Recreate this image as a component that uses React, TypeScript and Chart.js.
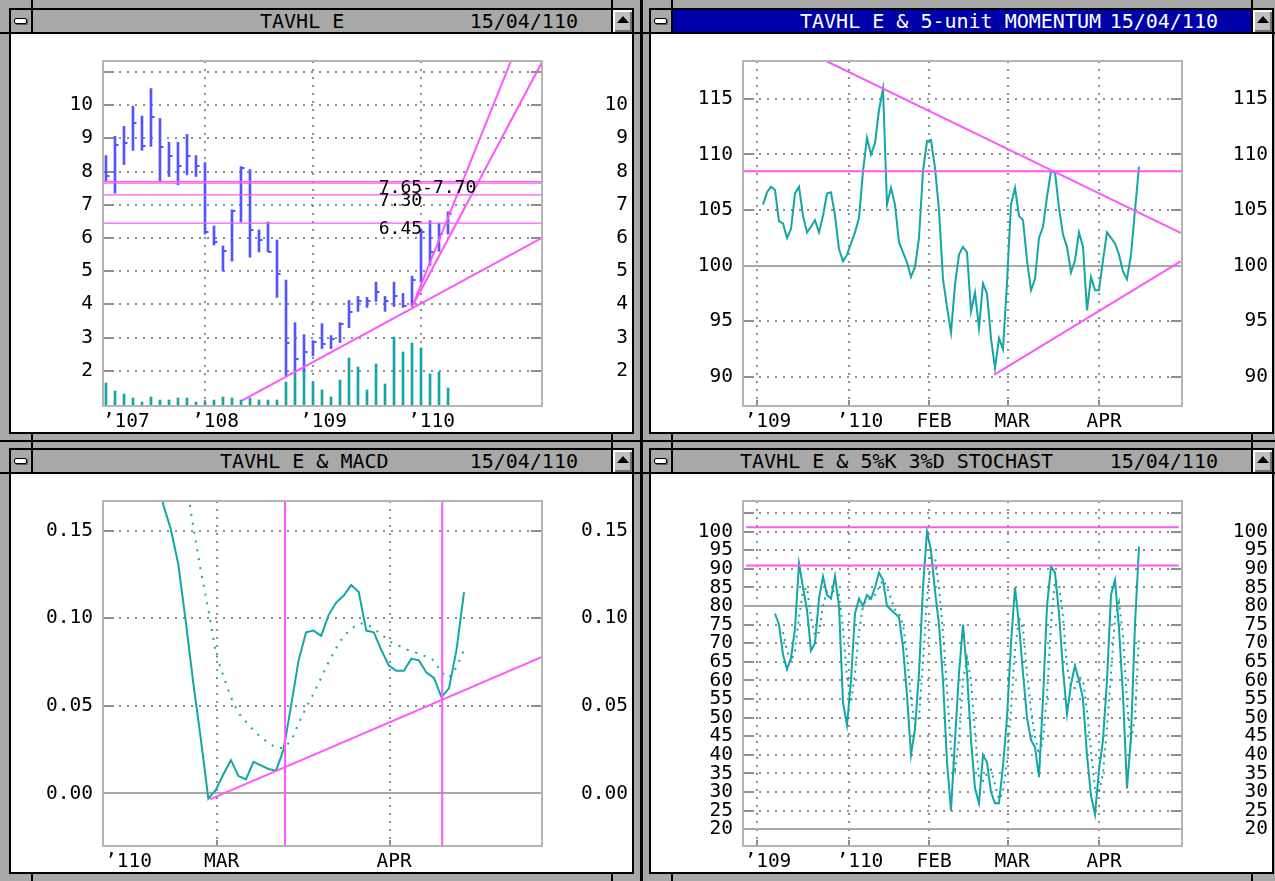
import React, { useEffect, useRef } from "react";
import { Chart, registerables } from "chart.js";

Chart.register(...registerables);

const MONO = '"DejaVu Sans Mono", "Liberation Mono", monospace';
const TEAL = "#12a6a6";
const BLUE = "#5555ff";
const PINK = "#ff55ff";
const GRID = "#8e8e8e";
const FRAME = "#b4b4b4";
const ZERO = "#a8a8a8";
const FACE = "#a8a8a8";

// ---------------- Panel 1 : TAVHL E monthly bars (x = month index, 0 = Jan '107) -------------
const P1_FIRST_MONTH = 1;
const P1_HIGH = [8.48, 9.06, 9.36, 9.97, 9.67, 10.5, 9.6, 8.88, 8.88, 9.12, 8.48, 8.27, 6.36, 5.76, 6.85, 8.15, 8.06, 6.24, 6.48, 5.94, 4.73, 3.45, 3.09, 2.91, 3.42, 3.06, 3.45, 4.12, 4.24, 4.21, 4.67, 4.24, 4.67, 4.33, 4.85, 6.27, 6.52, 6.45, 6.79];
const P1_LOW = [7.7, 7.35, 8.21, 8.64, 8.64, 8.76, 7.7, 7.85, 7.6, 7.9, 7.85, 6.12, 5.79, 5.0, 5.3, 6.48, 5.42, 5.58, 5.58, 4.21, 1.85, 1.94, 1.97, 2.45, 2.67, 2.67, 2.85, 3.3, 3.79, 3.91, 4.09, 3.79, 3.94, 3.91, 3.94, 4.67, 5.18, 5.6, 6.12];
const P1_CLOSE = [7.88, 8.79, 8.85, 9.45, 8.76, 9.64, 8.73, 8.48, 8.18, 8.48, 8.18, 6.18, 5.88, 5.6, 6.82, 8.12, 6.24, 5.94, 5.58, 4.91, 2.85, 2.36, 2.58, 2.86, 2.82, 2.97, 3.42, 3.76, 4.09, 4.09, 4.36, 4.09, 4.24, 3.94, 4.73, 6.18, 5.58, 6.12, 6.73];
const P1_VOLUME = [23, 15, 12, 8, 4, 9, 6, 6, 8, 8, 4, 4, 6, 9, 8, 6, 8, 6, 6, 6, 24, 33, 36, 24, 16, 9, 26, 48, 39, 16, 42, 22, 69, 54, 63, 58, 32, 34, 18];
const P1_VOLUME_MAX = 345;
const P1_X_MIN = 0.67;
const P1_X_MAX = 49.44;
const P1_X_TICKS = [2.1, 12, 24, 36];
const P1_X_LABELS = ["\u2019107", "\u2019108", "\u2019109", "\u2019110"];
const P1_Y_MIN = 0.94;
const P1_Y_MAX = 11.33;
const P1_Y_TICKS = [2, 3, 4, 5, 6, 7, 8, 9, 10, 11];
const P1_Y_LABELS = ["2", "3", "4", "5", "6", "7", "8", "9", "10", ""];
const P1_LEVELS = [7.7, 7.65, 7.3, 6.45];
const P1_NOTE_TEXT = ["7.65-7.70", "7.30", "6.45"];
const P1_NOTE_VALUE = [7.7, 7.3, 6.45];
const P1_NOTE_X = 31.3;
const P1_TREND_SUPPORT = [[16.1, 1.1], [49.44, 6.0]];
const P1_TREND_FAN_A = [[35, 3.92], [46, 11.33]];
const P1_TREND_FAN_B = [[35, 3.92], [49.44, 11.3]];

// ---------------- Daily panels (x = trading-day index) ----------------
const D_X_TICKS = [-1.4, 21.6, 41.6, 61.15, 84.1];
const D_X_LABELS = ["\u2019109", "\u2019110", "FEB", "MAR", "APR"];
const D_X_MIN = -5.0;
const D_X_MAX = 104.75;

// Panel 2 : 5-unit momentum
const MOM_START = 0;
const MOMENTUM = [
  105.5, 106.6, 107.1, 106.8, 104.0, 103.8, 102.5, 103.3, 106.5, 107.1,
  104.5, 103.0, 103.5, 104.1, 103.0, 104.5, 106.5, 106.6, 104.5, 101.5,
  100.4, 101.0, 102.0, 103.0, 104.3, 108.5, 111.5, 110.0, 111.0, 114.0,
  115.9, 105.5, 107.0, 105.5, 102.1, 101.2, 100.3, 99.0, 99.9, 102.5,
  108.5, 111.2, 111.3, 108.8, 105.0, 98.8, 96.3, 94.0, 98.3, 101.0,
  101.7, 101.2, 95.9, 97.6, 94.4, 98.4, 97.5, 93.5, 90.8, 93.5,
  92.5, 98.5, 105.5, 107.0, 104.5, 104.1, 100.5, 97.8, 98.8, 102.5,
  103.5, 106.2, 108.5, 108.4, 105.2, 102.8, 101.7, 99.4, 100.5, 103.0,
  101.7, 96.0, 99.0, 97.8, 97.8, 100.5, 103.0, 102.5, 102.0, 101.0,
  99.5, 98.8, 101.0, 105.0, 108.9,
];
const P2_Y_MIN = 87.4;
const P2_Y_MAX = 118.4;
const P2_Y_TICKS = [90, 95, 100, 105, 110, 115];
const P2_Y_LABELS = ["90", "95", "100", "105", "110", "115"];
const P2_BASE = 100;
const P2_RESIST = 108.5;
const P2_TREND_UPPER = [[15.8, 118.4], [104.4, 102.95]];
const P2_TREND_LOWER = [[57.75, 90.2], [104.4, 100.4]];

// Panel 3 : MACD
const MACD_START = 53;
const MACD = [
  0.19, 0.165, 0.151, 0.131, 0.098, 0.063, 0.031, -0.003, 0.002, 0.011,
  0.019, 0.01, 0.008, 0.018, 0.016, 0.014, 0.013, 0.025, 0.05, 0.076,
  0.092, 0.093, 0.09, 0.102, 0.109, 0.113, 0.119, 0.115, 0.093, 0.092,
  0.082, 0.073, 0.07, 0.07, 0.077, 0.076, 0.069, 0.066, 0.055, 0.06,
  0.082, 0.115,
];
const SIGNAL_START = 57;
const SIGNAL = [
  0.18, 0.152, 0.127, 0.105, 0.08, 0.067, 0.055, 0.046, 0.041, 0.036,
  0.032, 0.029, 0.026, 0.026, 0.03, 0.04, 0.049, 0.057, 0.066, 0.075,
  0.083, 0.09, 0.094, 0.097, 0.097, 0.094, 0.091, 0.087, 0.085, 0.083,
  0.081, 0.08, 0.078, 0.076, 0.069, 0.066, 0.072, 0.082,
];
const P3_X_MIN = 45.99;
const P3_X_MAX = 104.37;
const P3_X_TICKS = [48.0, 61.15, 84.1];
const P3_X_LABELS = ["\u2019110", "MAR", "APR"];
const P3_Y_MIN = -0.03;
const P3_Y_MAX = 0.167;
const P3_Y_TICKS = [0, 0.05, 0.1, 0.15];
const P3_Y_LABELS = ["0.00", "0.05", "0.10", "0.15"];
const P3_BASE = 0;
const P3_MARKS = [70.2, 91.1];
const P3_TREND = [[60.2, -0.0034], [104.37, 0.078]];

// Panel 4 : 5%K 3%D stochastic
const STOCH_K_START = 3;
const STOCH_K = [
  78, 75, 67, 63, 66, 74, 91.5, 85, 79, 68,
  70, 82, 88, 83, 82, 88, 80, 54, 48, 60,
  78, 82, 80, 83, 82, 85, 89, 87, 80, 79,
  78, 77, 69, 56, 40, 47, 62, 85, 100, 95,
  84, 75, 60, 38, 25, 44, 62, 75, 62, 44,
  31, 27, 40, 38, 30, 27, 27, 37, 50, 70,
  85, 75, 62, 50, 44, 42, 34, 55, 80, 90.6,
  89, 78, 63, 51, 59, 64, 60, 55, 40, 29,
  24, 36, 44, 60, 83, 87, 74, 56, 31, 45,
  75, 96,
];
const STOCH_D_START = 5;
const STOCH_D = [
  73, 68, 65, 68, 77, 84, 85, 77, 72, 73,
  80, 84, 84, 84, 83, 74, 61, 54, 62, 73,
  80, 82, 82, 83, 85, 87, 85, 82, 79, 78,
  75, 67, 55, 48, 50, 65, 82, 93, 93, 85,
  73, 58, 41, 36, 44, 60, 66, 60, 46, 34,
  33, 35, 36, 32, 28, 30, 38, 52, 68, 77,
  74, 62, 52, 45, 40, 44, 56, 75, 87, 86,
  77, 64, 58, 58, 61, 60, 52, 41, 31, 30,
  35, 47, 62, 77, 81, 72, 54, 44, 50, 72,
];
const P4_Y_MIN = 15.5;
const P4_Y_MAX = 108.25;
const P4_Y_TICKS = [20, 25, 30, 35, 40, 45, 50, 55, 60, 65, 70, 75, 80, 85, 90, 95, 100, 105];
const P4_Y_LABELS = ["20", "25", "30", "35", "40", "45", "50", "55", "60", "65", "70", "75", "80", "85", "90", "95", "100", ""];
const P4_BASES = [80, 20];
const P4_LEVELS = [101.2, 90.9];

// ---------------- layout constants ----------------
const CANVAS_W = 621;
const CANVAS_H = 398;
const LEFT_W = 92;
const RIGHT_W = 86;
const PAD_TOP = 27;
const PAD_RIGHT = 4;
const BOTTOM_H = 26;
const TICK_FONT = { family: MONO, size: 19.5 };

function xAxis(min: number, max: number, ticks: number[], labels: string[], hidden: number[]) {
  return {
    type: "linear",
    min,
    max,
    offset: false,
    afterBuildTicks: (s: any) => {
      s.ticks = ticks.map((v) => ({ value: v }));
    },
    afterFit: (s: any) => {
      s.height = BOTTOM_H;
    },
    grid: {
      offset: false,
      drawTicks: false,
      lineWidth: 2,
      color: (c: any) => (hidden.includes(c.index) ? "rgba(0,0,0,0)" : GRID),
    },
    border: { display: false, dash: [2, 6] },
    ticks: {
      autoSkip: false,
      maxRotation: 0,
      minRotation: 0,
      padding: 4,
      align: "start",
      labelOffset: -13,
      color: "#000",
      font: TICK_FONT,
      callback: (_v: any, i: number) => labels[i],
    },
  };
}

function yAxis(pos: "left" | "right", min: number, max: number, ticks: number[], labels: string[]) {
  return {
    type: "linear",
    position: pos,
    min,
    max,
    beginAtZero: false,
    afterBuildTicks: (s: any) => {
      s.ticks = ticks.map((v) => ({ value: v }));
    },
    afterFit: (s: any) => {
      s.width = pos === "left" ? LEFT_W : RIGHT_W;
    },
    grid: { display: pos === "left", drawTicks: false, color: GRID, lineWidth: 2 },
    border: { display: false, dash: [2, 6] },
    ticks: {
      autoSkip: false,
      padding: 10,
      crossAlign: pos === "left" ? "near" : "far",
      color: "#000",
      font: TICK_FONT,
      callback: (_v: any, i: number) => labels[i],
    },
  };
}

function seg(points: number[][], color: string, width: number, dash?: number[]) {
  return {
    type: "line",
    data: points.map((p) => ({ x: p[0], y: p[1] })),
    borderColor: color,
    borderWidth: width,
    borderDash: dash || [],
    pointRadius: 0,
    tension: 0,
    fill: false,
    order: 0,
  };
}

function series(start: number, values: number[], color: string, width: number, dash?: number[], order = 1) {
  return {
    type: "line",
    data: values.map((v, i) => ({ x: start + i, y: v })),
    borderColor: color,
    borderWidth: width,
    borderDash: dash || [],
    borderCapStyle: "butt",
    pointRadius: 0,
    tension: 0,
    fill: false,
    order,
  };
}

function retroPlugin(opts: { bases?: number[]; hiddenX?: number[]; notes?: { text: string[]; value: number[]; x: number } }) {
  return {
    id: "retro",
    beforeDatasetsDraw(chart: any) {
      const { ctx, chartArea: a, scales } = chart;
      ctx.save();
      ctx.strokeStyle = GRID;
      ctx.lineWidth = 2;
      ctx.setLineDash([]);
      for (const t of scales.y.ticks) {
        const y = Math.round(scales.y.getPixelForValue(t.value));
        ctx.beginPath();
        ctx.moveTo(a.left, y);
        ctx.lineTo(a.left + 11, y);
        ctx.moveTo(a.right - 11, y);
        ctx.lineTo(a.right, y);
        ctx.stroke();
      }
      scales.x.ticks.forEach((t: any, i: number) => {
        if (opts.hiddenX && opts.hiddenX.includes(i)) return;
        const x = Math.round(scales.x.getPixelForValue(t.value));
        ctx.beginPath();
        ctx.moveTo(x, a.bottom - 6);
        ctx.lineTo(x, a.bottom);
        ctx.stroke();
      });
      if (opts.bases) {
        ctx.strokeStyle = ZERO;
        ctx.lineWidth = 2;
        for (const v of opts.bases) {
          const y = Math.round(scales.y.getPixelForValue(v));
          ctx.beginPath();
          ctx.moveTo(a.left, y);
          ctx.lineTo(a.right, y);
          ctx.stroke();
        }
      }
      ctx.restore();
    },
    afterDatasetsDraw(chart: any) {
      const { ctx, chartArea: a, scales } = chart;
      ctx.save();
      if (opts.notes) {
        ctx.fillStyle = "#000";
        ctx.font = `18px ${MONO}`;
        ctx.textAlign = "left";
        ctx.textBaseline = "alphabetic";
        const x = scales.x.getPixelForValue(opts.notes.x);
        opts.notes.text.forEach((t, i) => {
          const y = scales.y.getPixelForValue(opts.notes!.value[i]) + 11;
          ctx.fillText(t, x, y);
        });
      }
      ctx.strokeStyle = FRAME;
      ctx.lineWidth = 2;
      ctx.setLineDash([]);
      ctx.strokeRect(a.left, a.top, a.right - a.left, a.bottom - a.top);
      ctx.restore();
    },
  };
}

function baseOptions(scales: any) {
  return {
    responsive: false,
    animation: false,
    events: [],
    layout: { padding: { top: PAD_TOP, right: PAD_RIGHT, left: 0, bottom: 0 } },
    plugins: { legend: { display: false }, tooltip: { enabled: false } },
    scales,
  };
}

function closeTickImage() {
  const c = document.createElement("canvas");
  c.width = 9;
  c.height = 2;
  const g = c.getContext("2d")!;
  g.fillStyle = BLUE;
  g.fillRect(5, 0, 3, 2);
  return c;
}

function buildP1(canvas: HTMLCanvasElement) {
  const datasets: any[] = [
    ...P1_LEVELS.map((v) => seg([[P1_X_MIN, v], [P1_X_MAX, v]], PINK, 1.3)),
    seg(P1_TREND_SUPPORT, PINK, 2),
    seg(P1_TREND_FAN_A, PINK, 2),
    seg(P1_TREND_FAN_B, PINK, 2),
    {
      type: "scatter",
      data: P1_CLOSE.map((c, i) => ({ x: P1_FIRST_MONTH + i, y: c })),
      pointStyle: closeTickImage(),
      pointRadius: 3,
      showLine: false,
      order: 1,
    },
    {
      type: "bar",
      data: P1_HIGH.map((h, i) => ({ x: P1_FIRST_MONTH + i, y: [P1_LOW[i], h] })),
      backgroundColor: BLUE,
      borderWidth: 0,
      barThickness: 2,
      maxBarThickness: 2,
      grouped: false,
      order: 2,
    },
    {
      type: "bar",
      yAxisID: "yv",
      data: P1_VOLUME.map((v, i) => ({ x: P1_FIRST_MONTH + i, y: v })),
      backgroundColor: TEAL,
      borderWidth: 0,
      barThickness: 2,
      maxBarThickness: 2,
      grouped: false,
      order: 3,
    },
  ];
  return new Chart(canvas, {
    type: "bar",
    data: { datasets },
    options: baseOptions({
      x: xAxis(P1_X_MIN, P1_X_MAX, P1_X_TICKS, P1_X_LABELS, [0]),
      y: yAxis("left", P1_Y_MIN, P1_Y_MAX, P1_Y_TICKS, P1_Y_LABELS),
      y2: yAxis("right", P1_Y_MIN, P1_Y_MAX, P1_Y_TICKS, P1_Y_LABELS),
      yv: { type: "linear", display: false, min: 0, max: P1_VOLUME_MAX },
    }) as any,
    plugins: [retroPlugin({ hiddenX: [0], notes: { text: P1_NOTE_TEXT, value: P1_NOTE_VALUE, x: P1_NOTE_X } })],
  } as any);
}

function buildP2(canvas: HTMLCanvasElement) {
  const datasets: any[] = [
    seg([[D_X_MIN, P2_RESIST], [D_X_MAX, P2_RESIST]], PINK, 2),
    seg(P2_TREND_UPPER, PINK, 2),
    seg(P2_TREND_LOWER, PINK, 2),
    series(MOM_START, MOMENTUM, TEAL, 2),
  ];
  return new Chart(canvas, {
    type: "line",
    data: { datasets },
    options: baseOptions({
      x: xAxis(D_X_MIN, D_X_MAX, D_X_TICKS, D_X_LABELS, []),
      y: yAxis("left", P2_Y_MIN, P2_Y_MAX, P2_Y_TICKS, P2_Y_LABELS),
      y2: yAxis("right", P2_Y_MIN, P2_Y_MAX, P2_Y_TICKS, P2_Y_LABELS),
    }) as any,
    plugins: [retroPlugin({ bases: [P2_BASE] })],
  } as any);
}

function buildP3(canvas: HTMLCanvasElement) {
  const datasets: any[] = [
    ...P3_MARKS.map((m) => seg([[m, P3_Y_MIN], [m, P3_Y_MAX]], PINK, 2)),
    seg(P3_TREND, PINK, 2),
    series(MACD_START, MACD, TEAL, 2),
    series(SIGNAL_START, SIGNAL, TEAL, 2, [2, 7], 2),
  ];
  return new Chart(canvas, {
    type: "line",
    data: { datasets },
    options: baseOptions({
      x: xAxis(P3_X_MIN, P3_X_MAX, P3_X_TICKS, P3_X_LABELS, [0]),
      y: yAxis("left", P3_Y_MIN, P3_Y_MAX, P3_Y_TICKS, P3_Y_LABELS),
      y2: yAxis("right", P3_Y_MIN, P3_Y_MAX, P3_Y_TICKS, P3_Y_LABELS),
    }) as any,
    plugins: [retroPlugin({ bases: [P3_BASE], hiddenX: [0] })],
  } as any);
}

function buildP4(canvas: HTMLCanvasElement) {
  const datasets: any[] = [
    ...P4_LEVELS.map((v) => seg([[D_X_MIN + 0.8, v], [D_X_MAX - 0.8, v]], PINK, 2)),
    series(STOCH_K_START, STOCH_K, TEAL, 2),
    series(STOCH_D_START, STOCH_D, TEAL, 2, [2, 5], 2),
  ];
  return new Chart(canvas, {
    type: "line",
    data: { datasets },
    options: baseOptions({
      x: xAxis(D_X_MIN, D_X_MAX, D_X_TICKS, D_X_LABELS, []),
      y: yAxis("left", P4_Y_MIN, P4_Y_MAX, P4_Y_TICKS, P4_Y_LABELS),
      y2: yAxis("right", P4_Y_MIN, P4_Y_MAX, P4_Y_TICKS, P4_Y_LABELS),
    }) as any,
    plugins: [retroPlugin({ bases: P4_BASES })],
  } as any);
}

function ChartCanvas({ build }: { build: (c: HTMLCanvasElement) => Chart }) {
  const ref = useRef<HTMLCanvasElement>(null);
  useEffect(() => {
    const chart = build(ref.current!);
    return () => chart.destroy();
  }, []);
  return <canvas ref={ref} width={CANVAS_W} height={CANVAS_H} style={{ display: "block", width: CANVAS_W, height: CANVAS_H }} />;
}

function Win(props: { left: number; top: number; active?: boolean; title: string; titleLeft: number; build: (c: HTMLCanvasElement) => Chart }) {
  const { left, top, active, title, titleLeft, build } = props;
  const textColor = active ? "#fff" : "#000";
  const textStyle: any = {
    position: "absolute",
    top: 0,
    height: 22,
    lineHeight: "22px",
    fontFamily: MONO,
    fontSize: 20,
    whiteSpace: "pre",
    color: textColor,
  };
  return (
    <div
      style={{
        position: "absolute",
        left,
        top,
        width: 625,
        height: 426,
        boxSizing: "border-box",
        border: "2px solid #000",
        background: "#fff",
      }}
    >
      <div style={{ position: "relative", height: 22, borderBottom: "2px solid #000", background: FACE, overflow: "hidden" }}>
        <div style={{ position: "absolute", left: 22, right: 21, top: 0, height: 22, background: active ? "#0000a8" : FACE }} />
        <div style={{ position: "absolute", left: 0, top: 0, width: 20, height: 22, borderRight: "2px solid #000", background: FACE }}>
          <div
            style={{
              position: "absolute",
              left: 3,
              top: 8,
              width: 11,
              height: 4,
              background: "#fff",
              border: "1px solid #000",
              borderRadius: 2,
              boxShadow: "1px 1px 0 #555",
            }}
          />
        </div>
        <span style={{ ...textStyle, left: titleLeft }}>{title}</span>
        <span style={{ ...textStyle, right: 54 }}>15/04/110</span>
        <div
          style={{
            position: "absolute",
            right: 0,
            top: 0,
            width: 19,
            height: 22,
            borderLeft: "2px solid #000",
            background: "#c0c0c0",
            boxShadow: "inset 2px 2px 0 #fff, inset -2px -2px 0 #707070",
          }}
        >
          <div
            style={{
              position: "absolute",
              left: 3.5,
              top: 6,
              width: 0,
              height: 0,
              borderLeft: "6px solid transparent",
              borderRight: "6px solid transparent",
              borderBottom: "7px solid #000",
            }}
          />
        </div>
      </div>
      <ChartCanvas build={build} />
    </div>
  );
}

export default function App() {
  const line = (style: any, key: string) => <div key={key} style={{ position: "absolute", background: "#000", ...style }} />;
  return (
    <div style={{ position: "fixed", left: 0, top: 0, width: 1275, height: 881, background: FACE, overflow: "hidden" }}>
      {line({ left: 640, top: 0, width: 3, height: 881 }, "cv")}
      {line({ left: 0, top: 440, width: 1275, height: 2 }, "ch")}
      {[31, 611, 671, 1251].map((x) => line({ left: x, top: 0, width: 2, height: 881 }, "v" + x))}
      {[32, 472].map((y) => line({ left: 0, top: y, width: 1275, height: 2 }, "h" + y))}
      <Win left={9} top={8} title="TAVHL E" titleLeft={249} build={buildP1} />
      <Win left={649} top={8} active title="TAVHL E & 5-unit MOMENTUM" titleLeft={149} build={buildP2} />
      <Win left={9} top={448} title="TAVHL E & MACD" titleLeft={209} build={buildP3} />
      <Win left={649} top={448} title="TAVHL E & 5%K 3%D STOCHAST" titleLeft={89} build={buildP4} />
    </div>
  );
}
